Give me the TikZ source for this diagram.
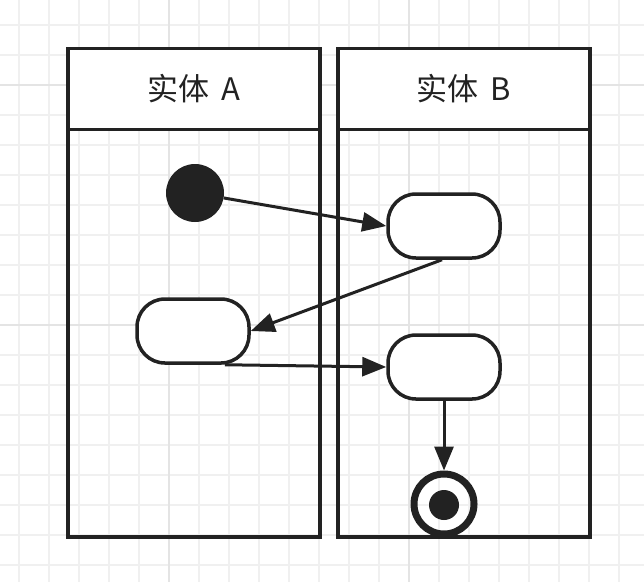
\documentclass[tikz,border=0pt]{standalone}
\usepackage{fontspec}
\setmainfont{Noto Sans CJK SC}
\usetikzlibrary{arrows.meta,calc}
\definecolor{ink}{HTML}{222222}
\definecolor{gridminor}{HTML}{F0F0F0}
\definecolor{gridmajor}{HTML}{E4E4E4}
\tikzset{
  gridline/.style={draw=gridminor, line width=2pt},
  gridmaj/.style={draw=gridmajor, line width=2pt},
  header/.style={draw=ink, fill=white, line width=3.5pt, minimum width=252pt, minimum height=81pt, inner sep=0pt,
    font=\fontsize{31}{36}\selectfont, text=ink},
  lanebody/.style={draw=ink, line width=3.5pt, minimum width=252pt, minimum height=409pt, inner sep=0pt},
  pill/.style={draw=ink, fill=white, line width=3.5pt, rounded corners=28pt, minimum width=112pt, minimum height=64pt, inner sep=0pt},
  startdot/.style={circle, fill=ink, minimum size=58pt, inner sep=0pt},
  endring/.style={circle, draw=ink, line width=7pt, minimum size=60pt, inner sep=0pt},
  enddot/.style={circle, fill=ink, minimum size=30pt, inner sep=0pt},
  flow/.style={draw=ink, line width=3pt, -{Triangle[length=24pt,width=19pt]}}
}
\begin{document}
\begin{tikzpicture}[x=1pt,y=-1pt]
\useasboundingbox (0,0) rectangle (644,582);
\fill[white] (0,0) rectangle (644,582);
\foreach \x in {19,49,...,619} \draw[gridline] (\x,0) -- (\x,582);
\foreach \y in {25,55,...,565} \draw[gridline] (0,\y) -- (644,\y);
\foreach \x in {169,409} \draw[gridmaj] (\x,0) -- (\x,582);
\foreach \y in {85,325} \draw[gridmaj] (0,\y) -- (644,\y);

\node[lanebody] (bodyA) at (194,332.5) {};
\node[lanebody] (bodyB) at (464,332.5) {};
\node[header] (headA) at (194,89) {实体\hspace{0.38em}A};
\node[header] (headB) at (464,89) {实体\hspace{0.38em}B};

\node[startdot] (init) at (195,193) {};
\node[pill] (s1) at (444,226) {};
\node[pill] (s2) at (193,331) {};
\node[pill] (s3) at (444,367) {};
\node[endring] (fin) at (444,504) {};
\node[enddot] (findot) at (444,505) {};

\draw[flow] (init) -- (s1.west);
\draw[flow] ($(s1.south)+(-2,0)$) -- (s2.east);
\draw[flow] ($(s2.south)+(32,0)$) -- (s3.west);
\draw[flow] (s3.south) -- (fin);
\end{tikzpicture}
\end{document}
